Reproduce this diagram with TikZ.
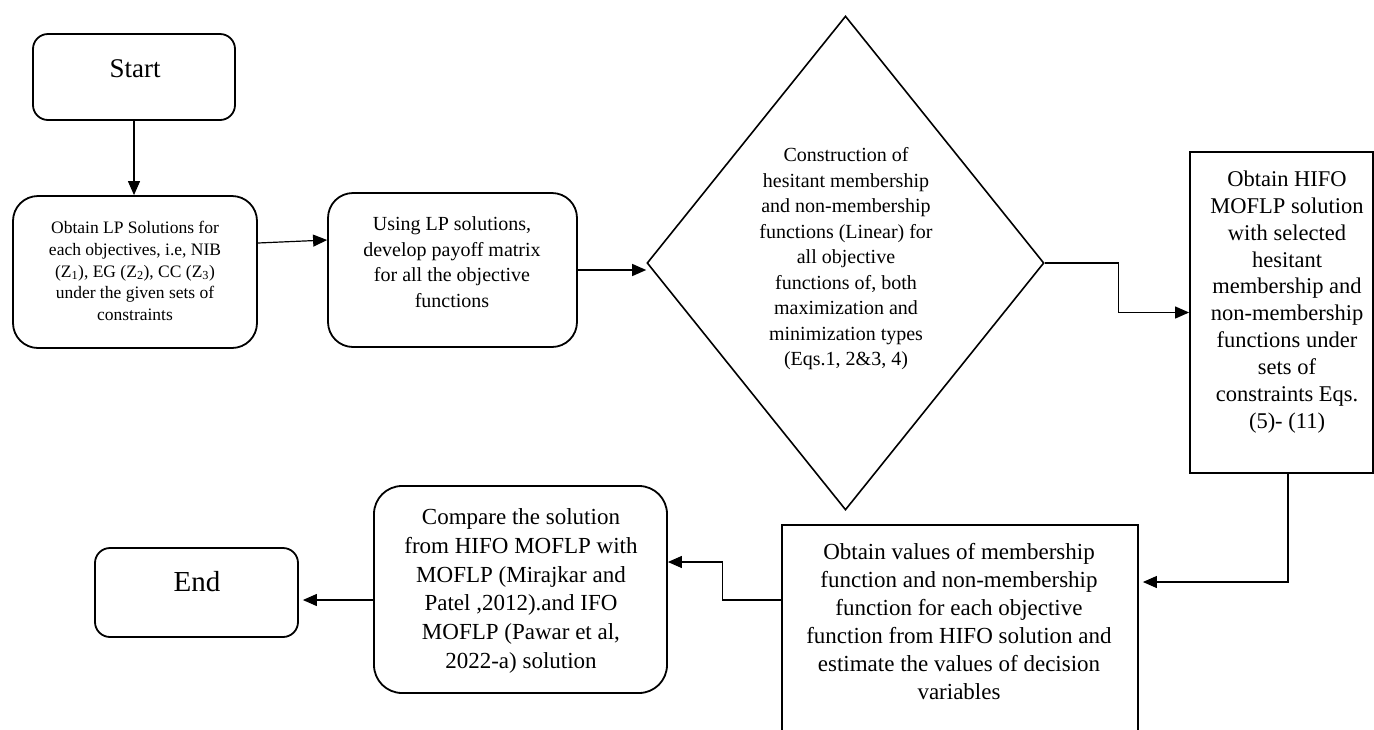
\documentclass[tikz,border=0pt]{standalone}
\usepackage{fontspec}
\setmainfont{Liberation Serif}
\usetikzlibrary{arrows.meta,shapes.geometric}
\tikzset{
  boxline/.style={draw=black, line width=1.8pt, inner sep=0pt},
  rbox/.style={boxline, rounded corners=#1},
  sbox/.style={boxline},
  dshape/.style={draw=black, line width=1.6pt, diamond, inner sep=0pt},
  txt/.style={align=center, inner sep=0pt, text=black},
  arr/.style={draw=black, line width=1.2pt, -{Triangle[length=14pt,width=12pt]}},
  ln/.style={draw=black, line width=1.2pt},
}
\newcommand{\fs}[2]{\fontsize{#1}{#2}\selectfont}
\begin{document}
\begin{tikzpicture}[x=1pt,y=-1pt]
\clip (0,0) rectangle (1374,729);
\fill[white] (0,0) rectangle (1374,729);

% shapes
\node[rbox=15pt, minimum width=202pt, minimum height=86pt] (start) at (134,77) {};
\node[rbox=25pt, minimum width=244pt, minimum height=152pt] (lp) at (135,272) {};
\node[rbox=25pt, minimum width=249pt, minimum height=154pt] (pay) at (452.5,270) {};
\node[dshape, minimum width=397pt, minimum height=494pt] (dia) at (845.5,263) {};
\node[sbox, minimum width=183pt, minimum height=321pt] (hifo) at (1281.5,312.5) {};
\node[sbox, minimum width=356pt, minimum height=240pt] (bot) at (960,645) {};
\node[rbox=28pt, minimum width=293pt, minimum height=207pt] (cmp) at (520.5,589.5) {};
\node[rbox=15pt, minimum width=203pt, minimum height=89pt] (end) at (196.5,592.5) {};

% texts
\node[txt, font=\fs{27}{32}] (startT) at (135,69) {Start};
\node[txt, font=\fs{29}{34}] (endT) at (197,582) {End};
\node[txt, font=\fs{17.5}{21.7}] (lpT) at (135,271) {Obtain LP Solutions for\\each objectives, i.e, NIB\\(Z\textsubscript{1}), EG (Z\textsubscript{2}), CC (Z\textsubscript{3})\\under the given sets of\\constraints};
\node[txt, font=\fs{20}{25.5}] (payT) at (452,262) {Using LP solutions,\\develop payoff matrix\\for all the objective\\functions};
\node[txt, font=\fs{20}{25.5}] (diaT) at (846,259) {Construction of\\hesitant membership\\and non-membership\\functions (Linear) for\\all objective\\functions of, both\\maximization and\\minimization types\\(Eqs.1, 2\&3, 4)};
\node[txt, font=\fs{22.5}{26.85}] (hifoT) at (1287,302) {Obtain HIFO\\MOFLP solution\\with selected\\hesitant\\membership and\\non-membership\\functions under\\sets of\\constraints Eqs.\\(5)- (11)};
\node[txt, font=\fs{23}{28}] (botT) at (959,622) {Obtain values of membership\\function and non-membership\\function for each objective\\function from HIFO solution and\\estimate the values of decision\\variables};
\node[txt, font=\fs{23}{28.7}] (cmpT) at (521,591) {Compare the solution\\from HIFO MOFLP with\\MOFLP (Mirajkar and\\Patel ,2012).and IFO\\MOFLP (Pawar et al,\\2022-a) solution};

% connectors
\draw[arr] (start.south) -- (start.south |- lp.north);
\draw[arr] ([yshift=29pt]lp.east) -- ([yshift=30pt]pay.west);
\draw[arr] (pay.east) -- (pay.east -| dia.west);
\coordinate (k1) at ([xshift=74pt]dia.east);
\draw[arr] (dia.east) -- (k1) |- (hifo.west);
\coordinate (k2) at ([xshift=6.5pt]hifo.south);
\draw[arr] (k2) |- ([xshift=4pt,yshift=63pt]bot.east);
\coordinate (k3) at ([xshift=-59pt,yshift=45pt]bot.west);
\draw[arr] ([yshift=45pt]bot.west) -- (k3) |- ([yshift=27.5pt]cmp.east);
\coordinate (k4) at ([yshift=-10.5pt]cmp.west);
\draw[arr] (k4) -- ([xshift=4pt]k4 -| end.east);
\end{tikzpicture}
\end{document}
